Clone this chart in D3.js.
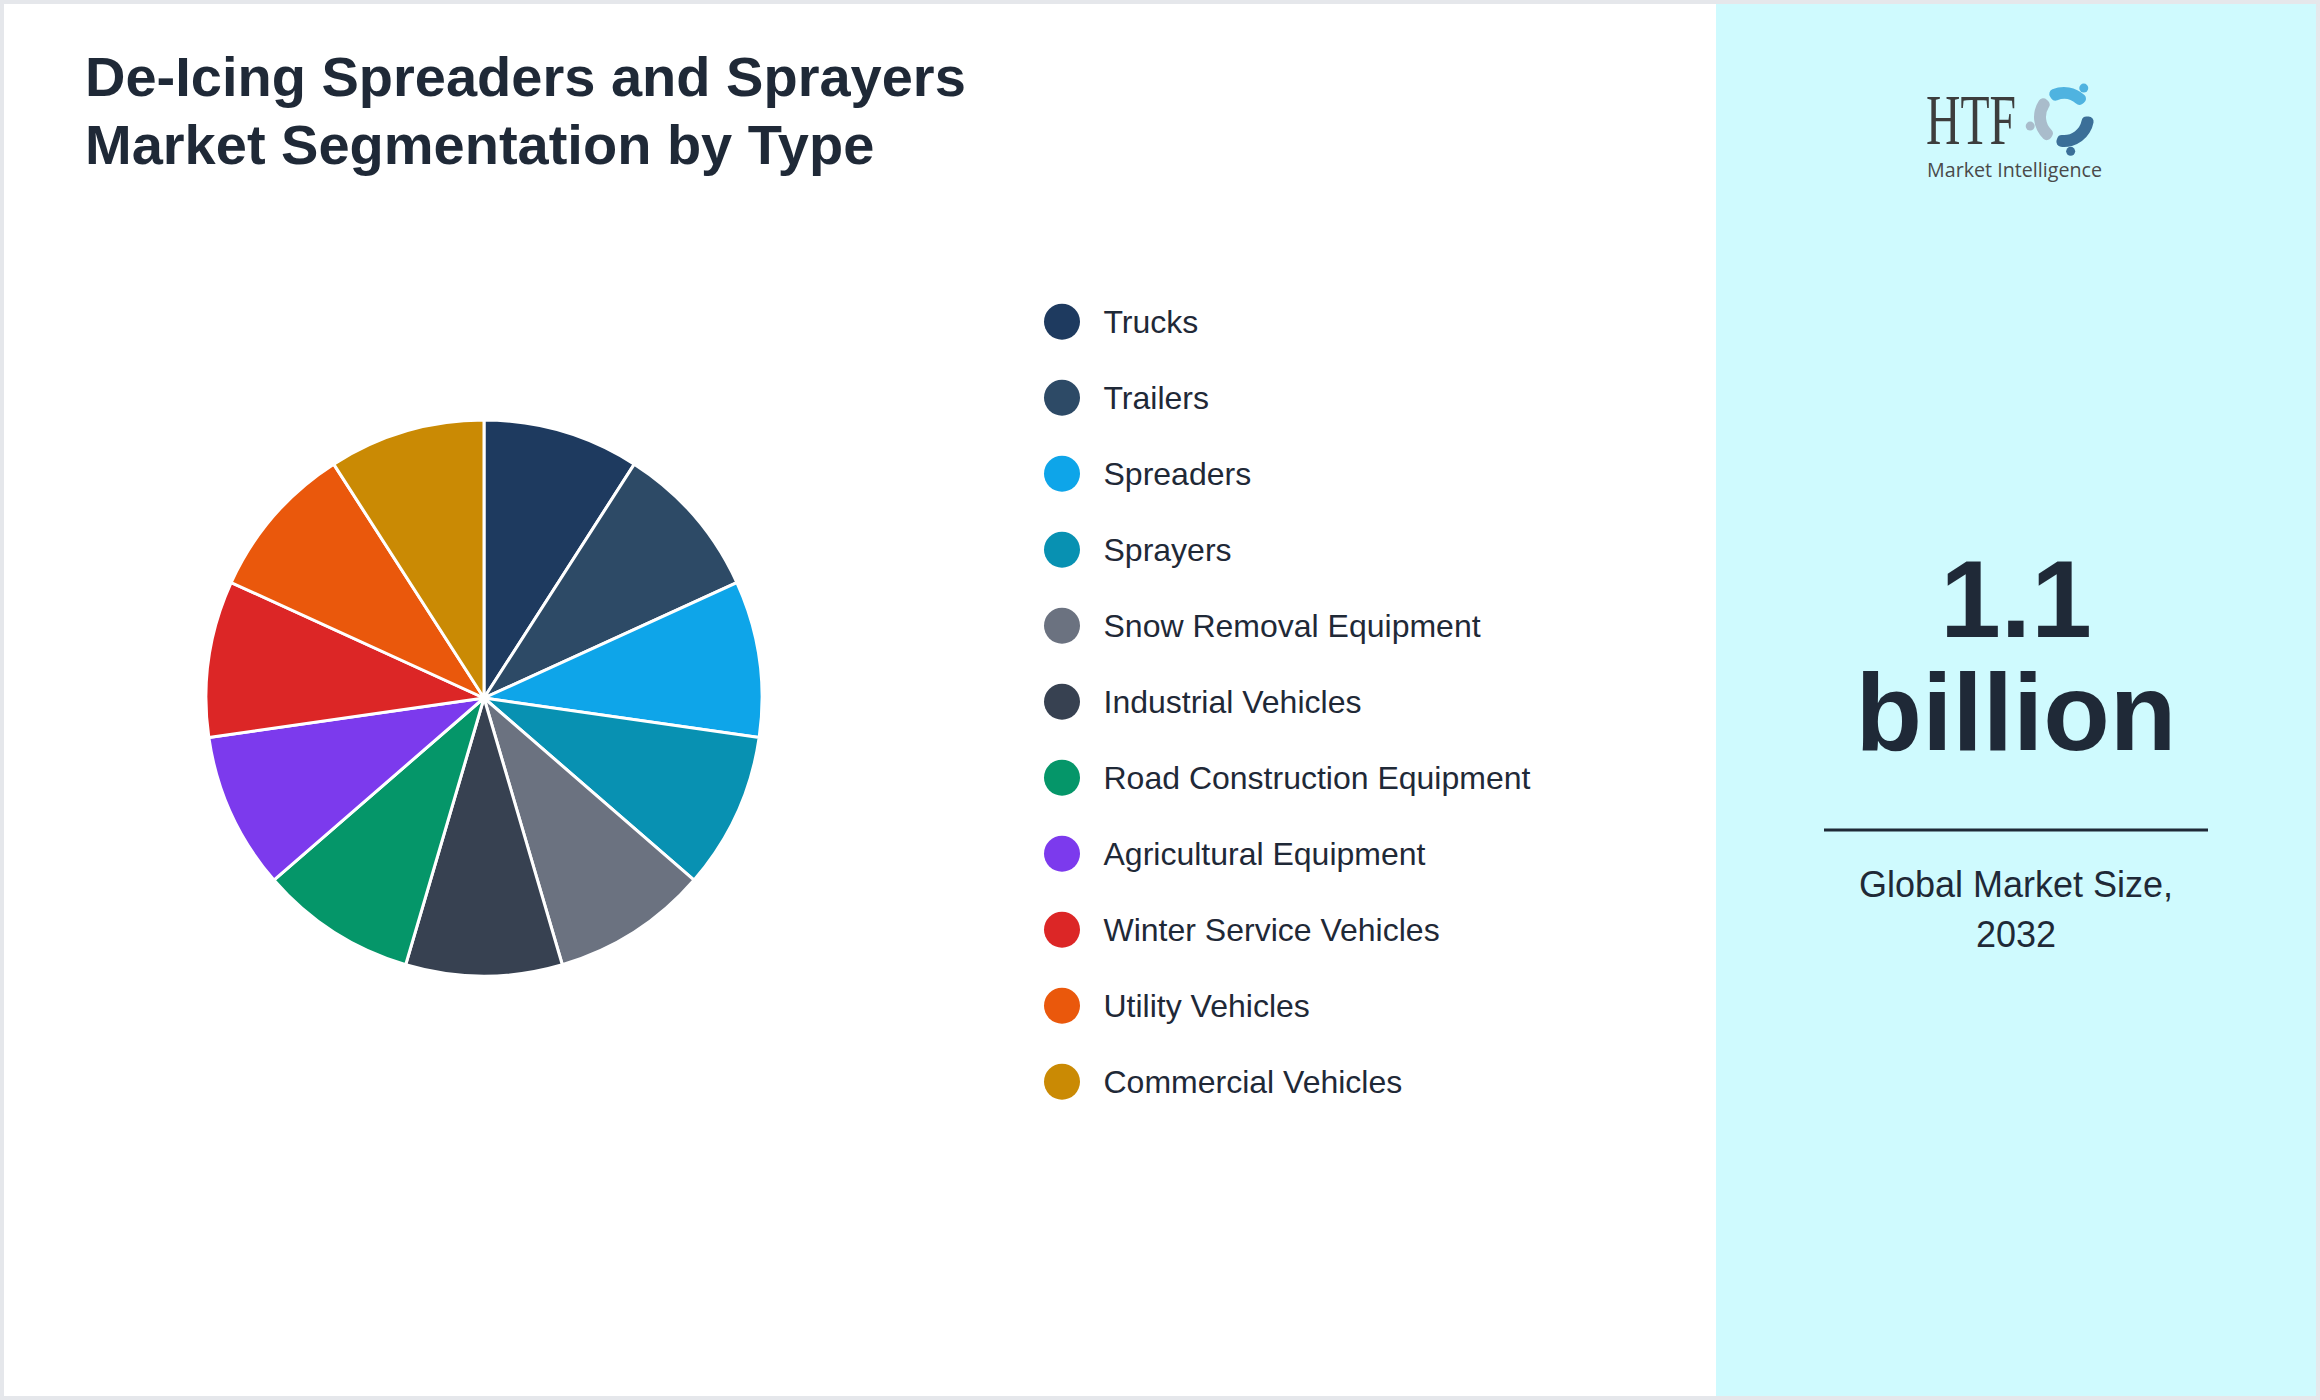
<!DOCTYPE html>
<head>
  <meta charset="utf-8">
  <script src="https://d3js.org/d3.v7.min.js"></script>
  <style>
    body {
      margin: 0;
      background: #ffffff;
    }
    svg text {
      font-family: "Liberation Sans", Arial, sans-serif;
    }
    .title {
      fill: #1f2937;
      font-size: 56px;
      font-weight: bold;
    }
    .legend-label {
      fill: #1f2937;
      font-size: 32px;
    }
    .big-number {
      fill: #1f2937;
      font-size: 109px;
      font-weight: bold;
    }
    .caption {
      fill: #1f2937;
      font-size: 36px;
    }
  </style>
</head>
<body>
  <script>
    // chart values: all segments are the same size
    var categories = [
      "Trucks", "Trailers", "Spreaders", "Sprayers", "Snow Removal Equipment",
      "Industrial Vehicles", "Road Construction Equipment", "Agricultural Equipment",
      "Winter Service Vehicles", "Utility Vehicles", "Commercial Vehicles"
    ];
    var shares = [9.09, 9.09, 9.09, 9.09, 9.09, 9.09, 9.09, 9.09, 9.09, 9.09, 9.09];
    var sliceColors = [
      "#1e3a5f", "#2d4a66", "#0ea5e9", "#0891b2", "#6b7280",
      "#374151", "#059669", "#7c3aed", "#dc2626", "#ea580c", "#ca8a04"
    ];
    var titleLines = ["De-Icing Spreaders and Sprayers", "Market Segmentation by Type"];
    var marketSize = ["1.1", "billion"];
    var captionLines = ["Global Market Size,", "2032"];

    var W = 2320, H = 1400, border = 4;
    var panelX = 1716;

    var svg = d3.select("body").append("svg")
        .attr("width", W)
        .attr("height", H);

    // frame + panels
    svg.append("rect")
        .attr("width", W).attr("height", H)
        .attr("fill", "#e5e7eb");
    svg.append("rect")
        .attr("x", border).attr("y", border)
        .attr("width", panelX - border).attr("height", H - 2 * border)
        .attr("fill", "#ffffff");
    svg.append("rect")
        .attr("x", panelX).attr("y", border)
        .attr("width", W - border - panelX).attr("height", H - 2 * border)
        .attr("fill", "#cffafe");

    // title
    svg.append("text")
        .attr("class", "title")
        .selectAll("tspan")
        .data(titleLines)
      .enter().append("tspan")
        .attr("x", 85)
        .attr("y", function(d, i) { return 96 + i * 68; })
        .text(function(d) { return d; });

    // pie
    var cx = 484, cy = 698, radius = 278;

    var pie = d3.pie()
        .sort(null)
        .value(function(d) { return d; });

    var arc = d3.arc()
        .innerRadius(0)
        .outerRadius(radius);

    var color = d3.scaleOrdinal()
        .domain(categories)
        .range(sliceColors);

    svg.append("g")
        .attr("transform", "translate(" + cx + "," + cy + ")")
      .selectAll("path")
        .data(pie(shares))
      .enter().append("path")
        .attr("d", arc)
        .attr("fill", function(d, i) { return color(categories[i]); })
        .attr("stroke", "#ffffff")
        .attr("stroke-width", 3);

    // legend
    var legendY = d3.scalePoint()
        .domain(categories)
        .range([321.7, 321.7 + 76 * (categories.length - 1)]);

    var legend = svg.append("g")
      .selectAll("g")
        .data(categories)
      .enter().append("g")
        .attr("transform", function(d) { return "translate(1062," + legendY(d) + ")"; });

    legend.append("circle")
        .attr("r", 18)
        .attr("fill", function(d) { return color(d); });

    legend.append("text")
        .attr("class", "legend-label")
        .attr("x", 41.5)
        .attr("dy", "0.34em")
        .text(function(d) { return d; });

    // logo
    var logo = svg.append("g");
    logo.append("text")
        .attr("x", 1926)
        .attr("y", 144)
        .attr("textLength", 90)
        .attr("lengthAdjust", "spacingAndGlyphs")
        .style("font-family", "'Liberation Serif', 'DejaVu Serif', serif")
        .style("font-size", "72px")
        .attr("fill", "#3d3d3d")
        .text("HTF");
    logo.append("text")
        .attr("x", 1927)
        .attr("y", 177)
        .attr("textLength", 175)
        .attr("lengthAdjust", "spacingAndGlyphs")
        .style("font-family", "'Open Sans', sans-serif")
        .style("font-size", "20px")
        .attr("fill", "#4a4a4a")
        .text("Market Intelligence");

    var swoosh = d3.arc().innerRadius(18).outerRadius(30).cornerRadius(5);
    var figures = [
      {start: -0.6, end: 0.95, fill: "#4fb3e0", head: 0.6},
      {start: 1.55, end: 3.45, fill: "#3b6f98", head: 2.95},
      {start: 3.7, end: 5.5, fill: "#a9bccb", head: 4.45}
    ];
    var ring = logo.append("g")
        .attr("transform", "translate(2064,117)");
    ring.selectAll("path")
        .data(figures)
      .enter().append("path")
        .attr("d", function(d) { return swoosh({startAngle: d.start, endAngle: d.end}); })
        .attr("fill", function(d) { return d.fill; });
    ring.selectAll("circle")
        .data(figures)
      .enter().append("circle")
        .attr("cx", function(d) { return 35 * Math.sin(d.head); })
        .attr("cy", function(d) { return -35 * Math.cos(d.head); })
        .attr("r", 4.5)
        .attr("fill", function(d) { return d.fill; });

    // market size panel
    var panelCx = (panelX + W - border) / 2;

    svg.append("text")
        .attr("class", "big-number")
        .attr("text-anchor", "middle")
        .selectAll("tspan")
        .data(marketSize)
      .enter().append("tspan")
        .attr("x", panelCx)
        .attr("y", function(d, i) { return 637 + i * 113; })
        .text(function(d) { return d; });

    svg.append("line")
        .attr("x1", 1824).attr("x2", 2208)
        .attr("y1", 830).attr("y2", 830)
        .attr("stroke", "#1f2937")
        .attr("stroke-width", 3);

    svg.append("text")
        .attr("class", "caption")
        .attr("text-anchor", "middle")
        .selectAll("tspan")
        .data(captionLines)
      .enter().append("tspan")
        .attr("x", panelCx)
        .attr("y", function(d, i) { return 897 + i * 50; })
        .text(function(d) { return d; });
  </script>
</body>
